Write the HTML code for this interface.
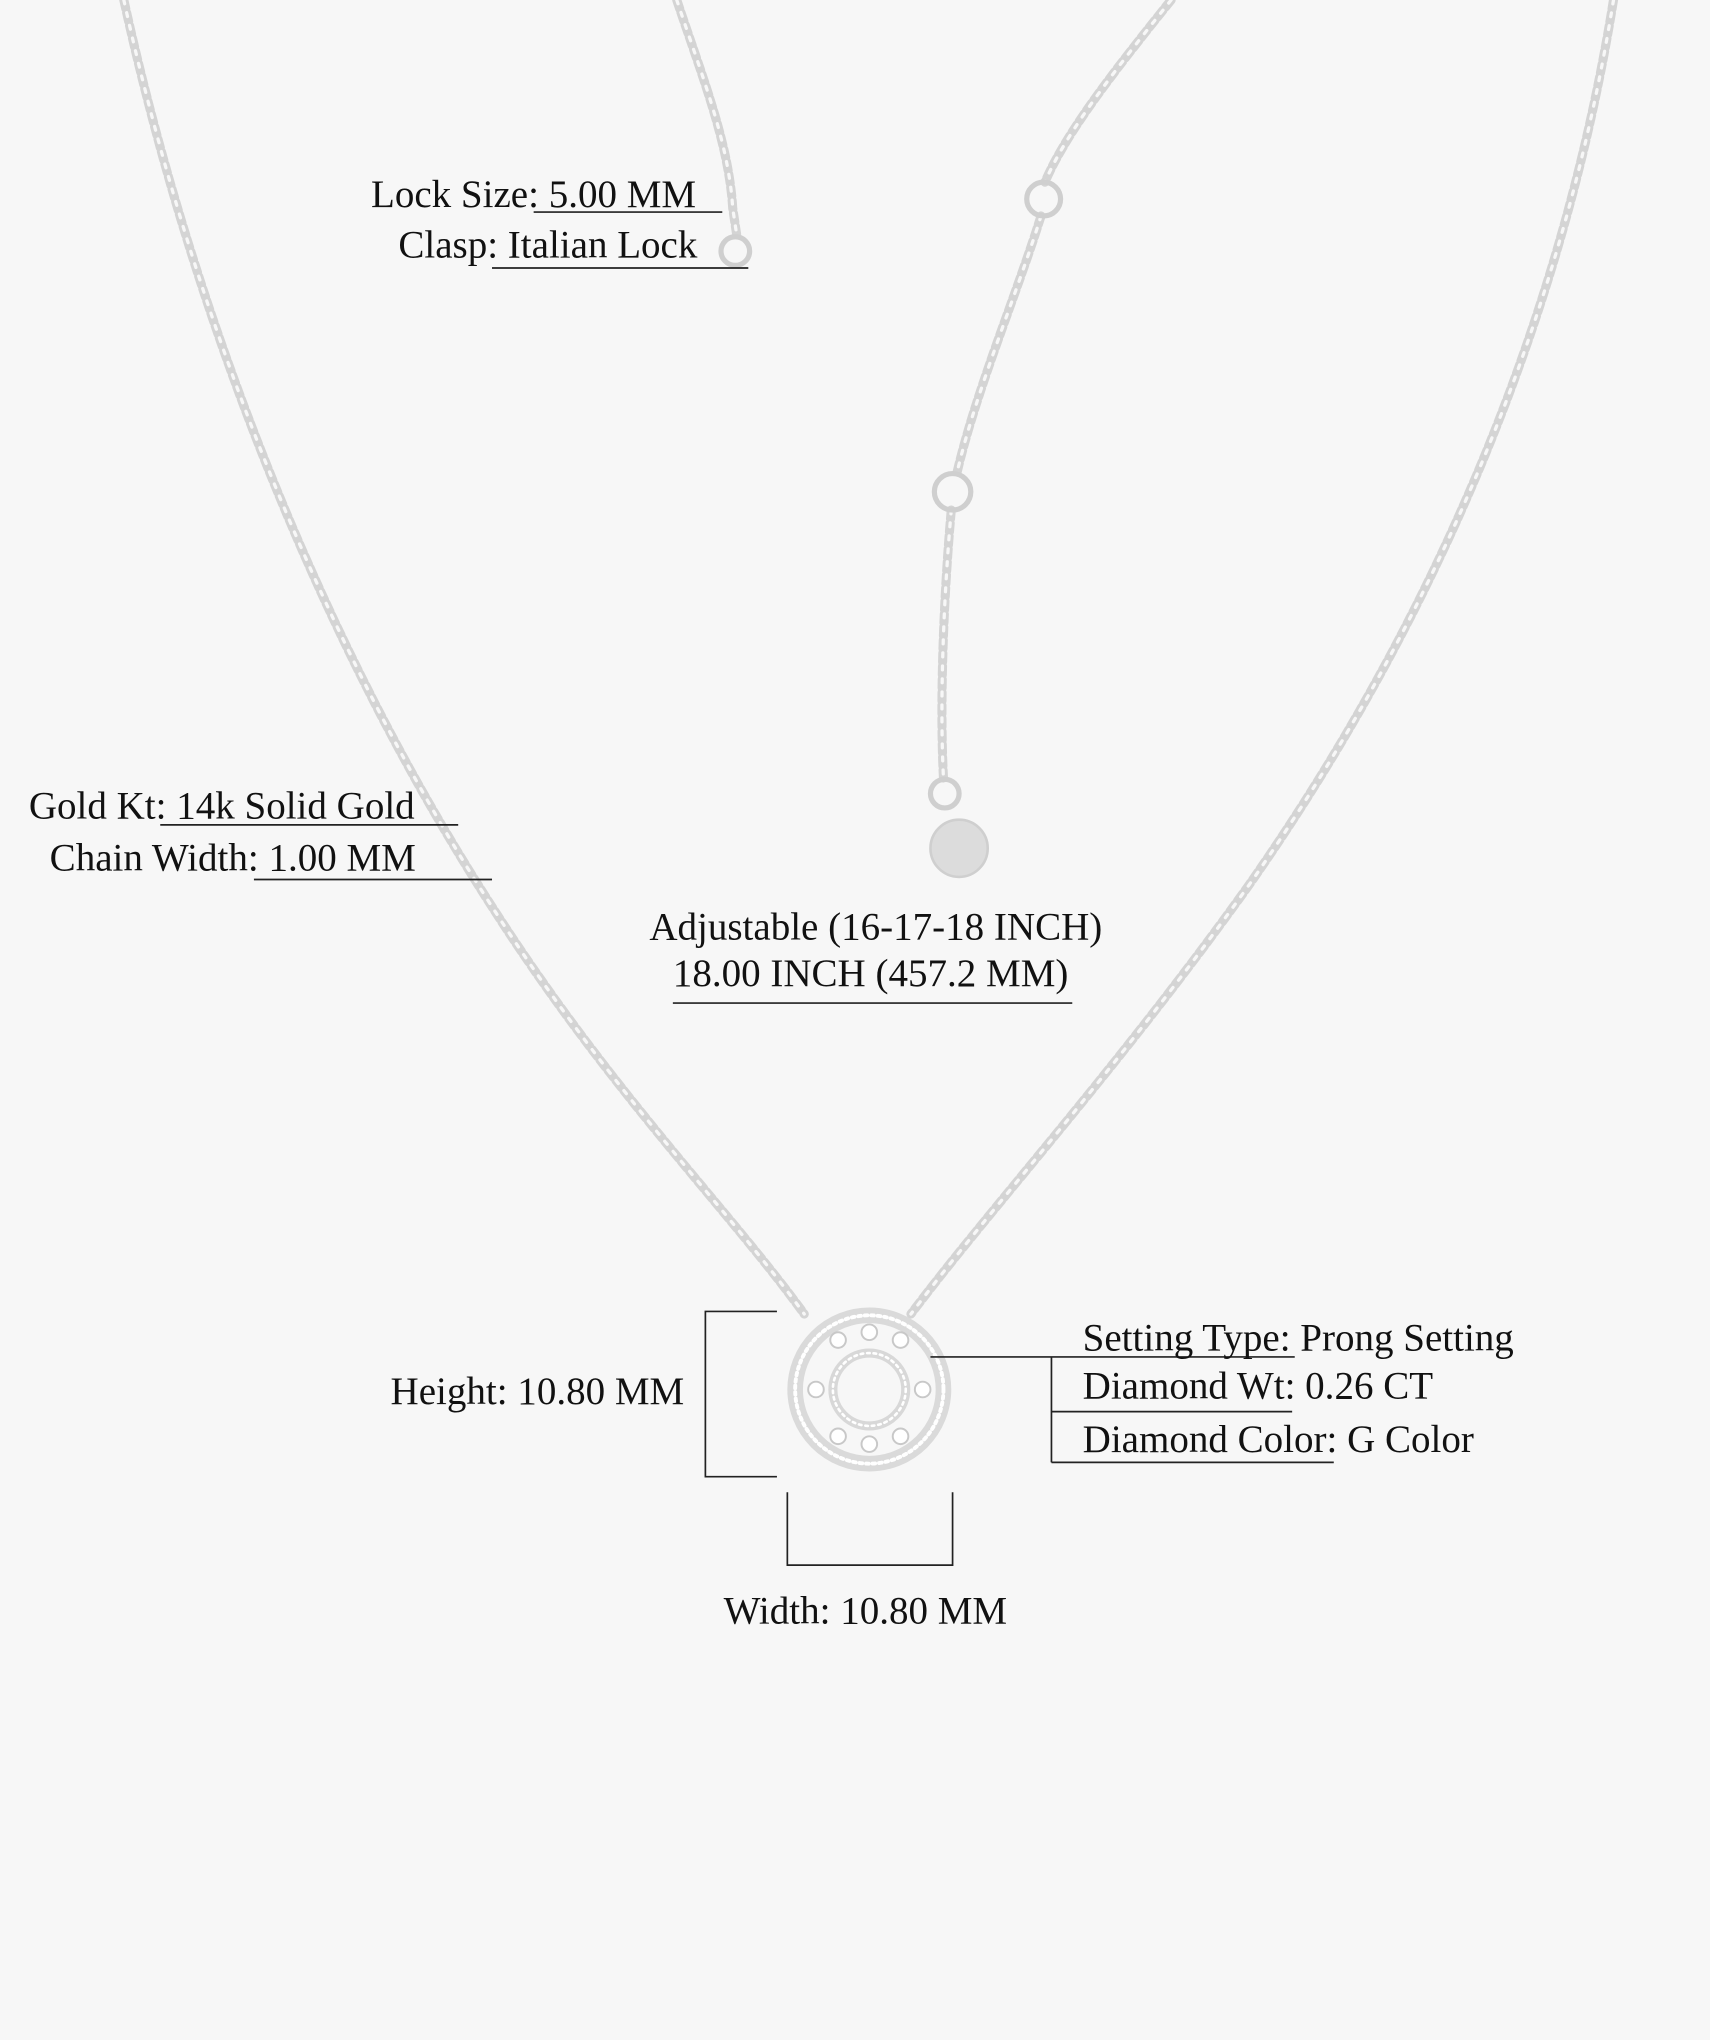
<!DOCTYPE html>
<html><head><meta charset="utf-8"><style>
html,body{margin:0;padding:0;background:#f7f7f7;}
svg{display:block}
text{font-family:"Liberation Serif",serif;font-size:30px;fill:#111;}
</style></head><body>
<svg width="1710" height="2040" viewBox="0 0 1314 1568" xmlns="http://www.w3.org/2000/svg">
<rect width="1314" height="1568" fill="#f7f7f7"/>
<g fill="none" stroke-linecap="round">
 <g stroke="#d4d4d4" stroke-width="7" stroke-dasharray="7 3">
  <path d="M95 0 C150 250 250 500 380 700 C470 840 560 930 618 1010"/>
  <path d="M1240 0 C1200 250 1100 480 960 680 C860 820 760 930 700 1010"/>
  <path d="M520 0 C540 60 560 110 563 160 L566 180"/>
  <path d="M900 0 C860 50 820 100 803 140 M800 166 C780 230 750 300 735 365 M731 392 C725 460 722 540 725 598"/>
 </g>
 <g stroke="#f7f7f7" stroke-width="2.5" stroke-dasharray="3 7">
  <path d="M95 0 C150 250 250 500 380 700 C470 840 560 930 618 1010"/>
  <path d="M1240 0 C1200 250 1100 480 960 680 C860 820 760 930 700 1010"/>
  <path d="M520 0 C540 60 560 110 563 160 L566 180"/>
  <path d="M900 0 C860 50 820 100 803 140 M800 166 C780 230 750 300 735 365 M731 392 C725 460 722 540 725 598"/>
 </g>
 <g stroke="#cfcfcf" stroke-width="4">
  <circle cx="565" cy="193" r="11"/>
  <circle cx="802" cy="153" r="13"/>
  <circle cx="732" cy="378" r="14"/>
  <circle cx="726" cy="610" r="11"/>
 </g>
 <circle cx="737" cy="652" r="22" fill="#dcdcdc" stroke="#cfcfcf" stroke-width="2"/>
 <circle cx="668" cy="1068" r="57" stroke="#dadada" stroke-width="12"/>
 <circle cx="668" cy="1068" r="57" stroke="#fff" stroke-width="3" stroke-dasharray="2 3"/>
 <circle cx="668" cy="1068" r="28" stroke="#d8d8d8" stroke-width="7"/>
 <circle cx="668" cy="1068" r="28" stroke="#fff" stroke-width="2" stroke-dasharray="2 3"/>
 <g fill="#fff" stroke="#c8c8c8" stroke-width="1.5">
  <circle cx="668" cy="1024" r="6"/><circle cx="644" cy="1030" r="6"/><circle cx="692" cy="1030" r="6"/>
  <circle cx="627" cy="1068" r="6"/><circle cx="709" cy="1068" r="6"/>
  <circle cx="644" cy="1104" r="6"/><circle cx="692" cy="1104" r="6"/><circle cx="668" cy="1110" r="6"/>
 </g>
</g>
<g stroke="#222" stroke-width="1.3" fill="none">
 <path d="M410 163H555M378 206H575"/>
 <path d="M123 634H352M195 676H378"/>
 <path d="M517 771H824"/>
 <path d="M597 1008H542V1135H597"/>
 <path d="M605 1147V1203H732V1147"/>
 <path d="M715 1043H995M808 1043V1124M808 1085H993M808 1124H1025"/>
</g>
<text x="285" y="159">Lock Size: 5.00 MM</text>
<text x="306" y="198">Clasp: Italian Lock</text>
<text x="22" y="629">Gold Kt: 14k Solid Gold</text>
<text x="38" y="669">Chain Width: 1.00 MM</text>
<text x="673" y="722" text-anchor="middle">Adjustable (16-17-18 INCH)</text>
<text x="669" y="758" text-anchor="middle">18.00 INCH (457.2 MM)</text>
<text x="300" y="1079">Height: 10.80 MM</text>
<text x="665" y="1248" text-anchor="middle">Width: 10.80 MM</text>
<text x="832" y="1038">Setting Type: Prong Setting</text>
<text x="832" y="1075">Diamond Wt: 0.26 CT</text>
<text x="832" y="1116">Diamond Color: G Color</text>
</svg>
</body></html>
